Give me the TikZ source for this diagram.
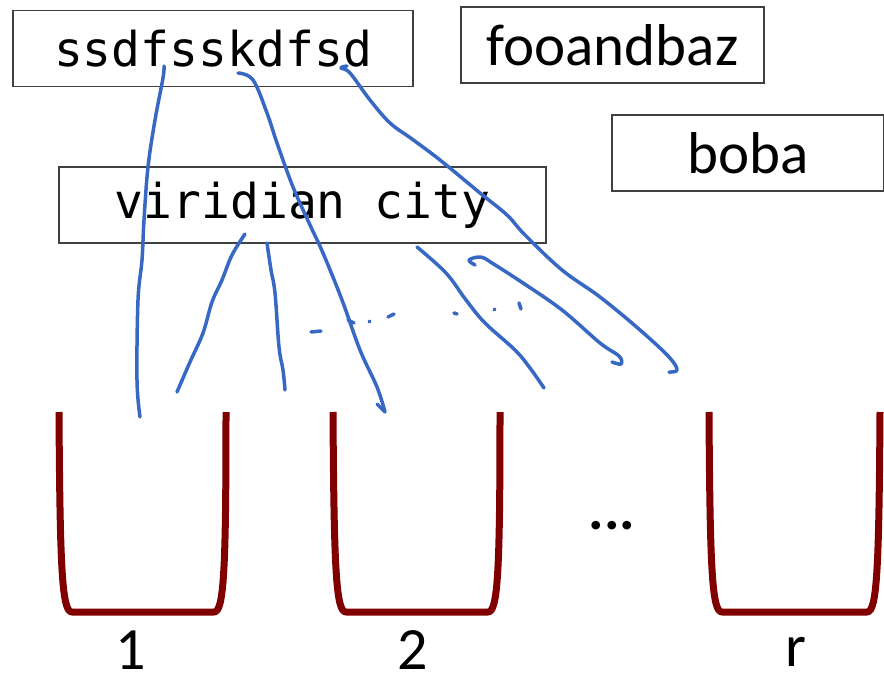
\documentclass[tikz,border=0pt]{standalone}
\usepackage{fontspec}
\newfontfamily\monofont{DejaVu Sans Mono}
\newfontfamily\sansfont{Carlito}
\begin{document}
\begin{tikzpicture}[x=1pt,y=-1pt,
  box/.style={draw=black!75,line width=1.6pt,inner sep=0pt,minimum height=76pt},
  monotxt/.style={font=\monofont\fontsize{48}{56}\selectfont},
  sanstxt/.style={font=\sansfont\fontsize{59}{64}\selectfont},
  lbl/.style={font=\sansfont\fontsize{60}{64}\selectfont,inner sep=0pt},
  ink/.style={color={rgb,255:red,55;green,104;blue,196},line width=3.5pt,line cap=round,line join=round},
  bucket/.style={draw={rgb,255:red,128;green,0;blue,0},line width=7pt,line join=round}]
\useasboundingbox (0,0) rectangle (884,688);
% boxes
\node[box,monotxt,minimum width=400pt] (ssd) at (213,48.5) {ssdfsskdfsd};
\node[box,sanstxt,minimum width=303pt] (foo) at (612.5,45) {fooandbaz};
\node[box,sanstxt,minimum width=272pt] (boba) at (748,153) {boba};
\node[box,monotxt,minimum width=487pt] (vir) at (302.5,205) {viridian city};
% buckets
\draw[bucket] (59,412) .. controls (60,570) and (62,612) .. (72,612) -- (214,612) .. controls (224,612) and (226,570) .. (226,412);
\draw[bucket] (333,412) .. controls (334,570) and (336,612) .. (346,612) -- (488,612) .. controls (498,612) and (500,570) .. (500,412);
\draw[bucket] (709,412) .. controls (710,570) and (712,612) .. (722,612) -- (867,612) .. controls (877,612) and (879,570) .. (880,412);
\node[lbl] (l1) at (131,650) {1};
\node[lbl] (l2) at (413,650) {2};
\node[lbl] (lr) at (796,652) {r};
\node[font=\sansfont\bfseries\fontsize{58}{58}\selectfont,inner sep=0pt] (dots) at (612,526) {...};
% ink strokes
\coordinate (s1) at (164,66); \coordinate (e1) at (140,417);
\coordinate (s2) at (245,234); \coordinate (e2) at (177,392);
\coordinate (s3) at (267,243); \coordinate (e3) at (285,390);
\coordinate (s4) at (238,73); \coordinate (e4) at (385,412);
\coordinate (s5) at (347,66); \coordinate (e5) at (669,372);
\coordinate (s6) at (417,247); \coordinate (e6) at (544,388);
\coordinate (s7) at (475,265); \coordinate (e7) at (612,362);
\draw[ink] plot[smooth,tension=0.6] coordinates {(s1) (163,78) (155,120) (148,167) (144,220) (142,260) (138,300) (137,380) (e1)};
\draw[ink] plot[smooth,tension=0.6] coordinates {(s2) (232,255) (222,280) (212,302) (203,333) (190,362) (e2)};
\draw[ink] plot[smooth,tension=0.6] coordinates {(s3) (271,270) (275,293) (279,347) (283,370) (e3)};
\draw[ink] plot[smooth,tension=0.6] coordinates {(s4) (253,80) (267,113) (277,143) (293,187) (310,225) (323,253) (342,300) (360,350) (377,387) (e4)};
\draw[ink] (377,404) -- (e4);
\draw[ink] plot[smooth,tension=0.6] coordinates {(s5) (341,68) (350,73) (370,100) (390,123) (412,139) (440,160) (480,193) (507,215) (525,235) (562,270) (600,297) (640,330) (669,357) (677,370) (e5)};
\draw[ink] plot[smooth,tension=0.6] coordinates {(s6) (446,273) (466,300) (485,323) (515,350) (530,368) (e6)};
\draw[ink] plot[smooth,tension=0.6] coordinates {(s7) (469,260) (481,257) (492,263) (523,283) (562,310) (600,343) (619,356) (621,364) (e7)};
% dotted marks
\draw[ink] (311,332) -- (321,331);
\draw[ink] (348,320) -- (354,323);
\draw[ink] (369,322) -- (370,321);
\draw[ink] (388,317) -- (394,314);
\draw[ink] (454,313) -- (457,314);
\draw[ink] (494,310) -- (495,309);
\draw[ink] (519,303) -- (521,309);
\end{tikzpicture}
\end{document}
